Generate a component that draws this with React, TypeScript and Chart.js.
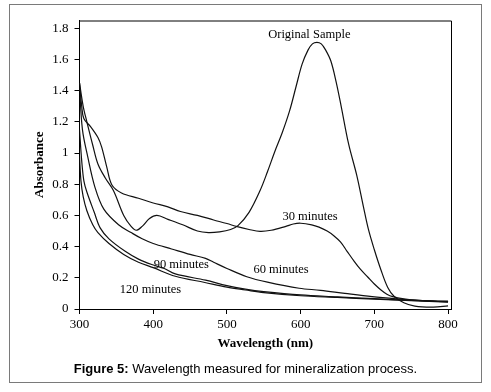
import React, { useEffect, useRef } from "react";
import { Chart, registerables } from "chart.js";

Chart.register(...registerables);

// ---- data (wavelength nm -> absorbance) ----
const origX = [300, 305, 310, 318, 325, 335, 346, 360, 370, 377, 385, 395, 405, 420, 440, 460, 475, 490, 505, 515, 530, 545, 555, 565, 575, 585, 594, 602, 610, 616, 622, 628, 634, 641, 648, 655, 665, 676, 685, 692, 700, 709, 718, 727, 740, 755, 780, 800];
const origY = [1.45, 1.3, 1.2, 1.05, 0.93, 0.84, 0.76, 0.6, 0.53, 0.505, 0.53, 0.58, 0.6, 0.575, 0.54, 0.5, 0.49, 0.495, 0.51, 0.535, 0.62, 0.76, 0.88, 1.01, 1.13, 1.27, 1.43, 1.57, 1.66, 1.70, 1.71, 1.70, 1.66, 1.59, 1.46, 1.3, 1.06, 0.86, 0.66, 0.51, 0.38, 0.25, 0.14, 0.08, 0.04, 0.018, 0.012, 0.02];

const min30X = [300, 303, 306, 315, 325, 330, 337, 344, 357, 380, 400, 420, 437, 460, 482, 500, 514, 530, 545, 560, 580, 590, 600, 615, 625, 636, 645, 654, 663, 672, 681, 691, 700, 709, 717, 725, 740, 760, 800];
const min30Y = [1.45, 1.3, 1.22, 1.17, 1.1, 1.04, 0.91, 0.795, 0.744, 0.71, 0.68, 0.655, 0.625, 0.6, 0.571, 0.548, 0.528, 0.51, 0.498, 0.505, 0.53, 0.545, 0.55, 0.54, 0.525, 0.5, 0.47, 0.43, 0.37, 0.31, 0.255, 0.205, 0.16, 0.122, 0.095, 0.079, 0.065, 0.055, 0.045];

const min60X = [300, 304, 311, 321, 333, 353, 370, 385, 400, 425, 450, 471, 482, 500, 527, 555, 598, 627, 660, 697, 730, 760, 800];
const min60Y = [1.42, 1.15, 0.98, 0.78, 0.64, 0.54, 0.49, 0.45, 0.42, 0.385, 0.35, 0.325, 0.3, 0.26, 0.207, 0.172, 0.133, 0.12, 0.1, 0.079, 0.065, 0.055, 0.05];

const min90X = [300, 303, 306, 310, 320, 328, 340, 362, 380, 398, 415, 430, 471, 500, 525, 550, 600, 650, 700, 750, 800];
const min90Y = [1.15, 0.95, 0.82, 0.75, 0.62, 0.52, 0.45, 0.37, 0.32, 0.285, 0.26, 0.225, 0.185, 0.15, 0.128, 0.112, 0.09, 0.078, 0.066, 0.055, 0.048];

const min120X = [300, 302, 305, 310, 318, 325, 340, 360, 380, 400, 430, 470, 500, 525, 550, 600, 650, 700, 750, 800];
const min120Y = [0.98, 0.82, 0.72, 0.63, 0.54, 0.49, 0.42, 0.35, 0.3, 0.265, 0.21, 0.17, 0.14, 0.122, 0.105, 0.085, 0.074, 0.063, 0.053, 0.044];

const xTicks = [300, 400, 500, 600, 700, 800];
const yTicks = [0, 0.2, 0.4, 0.6, 0.8, 1, 1.2, 1.4, 1.6, 1.8];

const seriesNames = ["Original Sample", "30 minutes", "60 minutes", "90 minutes", "120 minutes"];
const labelX = [611.8, 612.7, 573.4, 438.1, 396.3];
const labelY = [1.757, 0.592, 0.255, 0.287, 0.122];

const xTitle = "Wavelength (nm)";
const yTitle = "Absorbance";

const SERIF = "'Liberation Serif', 'Times New Roman', serif";
const SANS = "'Liberation Sans', Arial, sans-serif";

const toPts = (xs: number[], ys: number[]) => xs.map((x, i) => ({ x, y: ys[i] }));

const overlay = {
  id: "overlay",
  afterDraw(chart: any) {
    const { ctx, chartArea } = chart;
    const xs = chart.scales.x;
    const ys = chart.scales.y;
    ctx.save();
    ctx.strokeStyle = "#000";
    ctx.lineWidth = 1;
    ctx.beginPath();
    ctx.moveTo(chartArea.left, chartArea.top + 0.5);
    ctx.lineTo(chartArea.right + 0.5, chartArea.top + 0.5);
    ctx.lineTo(chartArea.right + 0.5, chartArea.bottom);
    ctx.stroke();
    ctx.fillStyle = "#000";
    ctx.font = `12.5px ${SERIF}`;
    ctx.textAlign = "center";
    ctx.textBaseline = "middle";
    seriesNames.forEach((t, i) => {
      ctx.fillText(t, xs.getPixelForValue(labelX[i]), ys.getPixelForValue(labelY[i]));
    });
    ctx.font = `bold 13px ${SERIF}`;
    ctx.fillText(xTitle, (chartArea.left + chartArea.right) / 2, 343.5);
    ctx.translate(40, (chartArea.top + chartArea.bottom) / 2);
    ctx.rotate(-Math.PI / 2);
    ctx.fillText(yTitle, 0, 0);
    ctx.restore();
  },
};

export default function App() {
  const ref = useRef<HTMLCanvasElement>(null);
  useEffect(() => {
    if (!ref.current) return;
    const mk = (label: string, xs: number[], ys: number[]) => ({
      label,
      data: toPts(xs, ys),
      borderColor: "#111",
      borderWidth: 1.2,
      pointRadius: 0,
      fill: false,
      tension: 0.35,
    });
    const chart = new Chart(ref.current, {
      type: "line",
      data: {
        datasets: [
          mk(seriesNames[0], origX, origY),
          mk(seriesNames[1], min30X, min30Y),
          mk(seriesNames[2], min60X, min60Y),
          mk(seriesNames[3], min90X, min90Y),
          mk(seriesNames[4], min120X, min120Y),
        ],
      },
      options: {
        animation: false,
        responsive: false,
        maintainAspectRatio: false,
        layout: { padding: { left: 0, top: 20.5, right: 40, bottom: 0 } },
        plugins: { legend: { display: false }, tooltip: { enabled: false } },
        scales: {
          x: {
            type: "linear",
            min: 300,
            max: 804,
            afterBuildTicks: (s: any) => {
              s.ticks = xTicks.map((v) => ({ value: v }));
            },
            afterFit: (s: any) => {
              s.height = 392 - 309;
            },
            grid: { display: true, drawOnChartArea: false, drawTicks: true, tickLength: 5, color: "#000" },
            border: { display: true, color: "#000", width: 1 },
            ticks: {
              color: "#000",
              font: { family: SERIF, size: 13 },
              padding: 3,
              maxRotation: 0,
              callback: (v: any) => String(v),
            },
          },
          y: {
            type: "linear",
            min: 0,
            max: 1.85,
            afterBuildTicks: (s: any) => {
              s.ticks = yTicks.map((v) => ({ value: v }));
            },
            afterFit: (s: any) => {
              s.width = 79.5;
            },
            grid: { display: true, drawOnChartArea: false, drawTicks: true, tickLength: 5, color: "#000" },
            border: { display: true, color: "#000", width: 1 },
            ticks: {
              color: "#000",
              font: { family: SERIF, size: 13 },
              padding: 6,
              callback: (v: any) => String(Number(Number(v).toFixed(1))),
            },
          },
        },
      },
      plugins: [overlay],
    });
    return () => chart.destroy();
  }, []);

  return (
    <div style={{ position: "fixed", left: 0, top: 0, width: 491, height: 392, background: "#fff" }}>
      <div
        style={{
          position: "absolute",
          left: 9,
          top: 4,
          width: 473,
          height: 379,
          boxSizing: "border-box",
          border: "1.6px solid #7a7a7a",
        }}
      />
      <canvas ref={ref} width={491} height={392} style={{ position: "absolute", left: 0, top: 0, width: 491, height: 392 }} />
      <div
        style={{
          position: "absolute",
          left: 0,
          width: 491,
          top: 361,
          textAlign: "center",
          fontFamily: SANS,
          fontSize: 13,
          lineHeight: "16px",
          color: "#000",
          whiteSpace: "nowrap",
        }}
      >
        <b>Figure 5:</b> Wavelength measured for mineralization process.
      </div>
    </div>
  );
}
